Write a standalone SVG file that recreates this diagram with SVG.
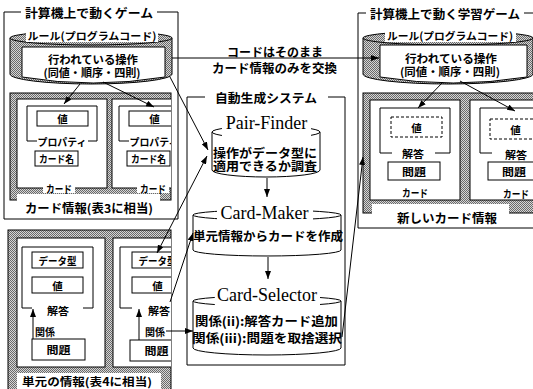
<svg xmlns="http://www.w3.org/2000/svg" width="533" height="389" viewBox="0 0 533 389">
<style>
.t{font-family:"Noto Sans CJK JP","Noto Sans CJK SC",sans-serif;font-weight:700;fill:#000;text-anchor:middle;dominant-baseline:central}
.s{font-family:"Liberation Serif",serif;fill:#000;text-anchor:middle}
.ln{stroke:#000;stroke-width:1;fill:none}
.box{fill:#fff;stroke:#000;stroke-width:1}
.dbox{fill:#fff;stroke:#000;stroke-width:1;stroke-dasharray:3,2}
.gray{fill:url(#hatch);stroke:#000;stroke-width:1}
.wb{fill:#fff;stroke:none}
.arr{stroke:#000;stroke-width:1;fill:none;marker-end:url(#ah)}
</style>
<defs>
<pattern id="hatch" width="2" height="2" patternUnits="userSpaceOnUse">
<rect width="2" height="2" fill="#d6d6d6"/>
<rect width="1" height="1" fill="#6a6a6a"/>
<rect x="1" y="1" width="1" height="1" fill="#6a6a6a"/>
</pattern>
<marker id="ah" viewBox="0 0 8 6" refX="8" refY="3" markerWidth="8" markerHeight="6" orient="auto-start-reverse" markerUnits="userSpaceOnUse">
<path d="M0,0 L8,3 L0,6 Z" fill="#000"/>
</marker>
<clipPath id="clipL"><rect x="10" y="93" width="161" height="107"/></clipPath>
<clipPath id="clipU"><rect x="8" y="230" width="163" height="160"/></clipPath>
<clipPath id="clipR"><rect x="363" y="93" width="170" height="120"/></clipPath>
</defs>
<rect width="533" height="389" fill="#fff"/>

<!-- left game frame -->
<g id="left-game">
<polyline class="ln" points="21,12 4,12 4,219 178,219 178,12 157,12"/>
<text class="t" x="89" y="12" font-size="12.5" textLength="128" lengthAdjust="spacingAndGlyphs">計算機上で動くゲーム</text>
</g>

<g id="rule-left">
<path class="gray" d="M10,38 V74 A81,10 0 0 0 172,74 V38 Z"/>
<ellipse class="gray" cx="91" cy="38" rx="81" ry="7"/>
<path class="box" d="M22,47 H165 V77 Q93,89 22,77 Z"/>
<rect class="wb" x="26" y="29" width="132" height="13"/>
<text class="t" x="92" y="35.5" font-size="10.5" textLength="129" lengthAdjust="spacingAndGlyphs">ルール(プログラムコード)</text>
<text class="t" x="93" y="58.5" font-size="11.5" textLength="90" lengthAdjust="spacingAndGlyphs">行われている操作</text>
<text class="t" x="92" y="72" font-size="11" textLength="97" lengthAdjust="spacingAndGlyphs">(同値・順序・四則)</text>
</g>

<g id="card-info-left">
<rect class="gray" x="10" y="93" width="161" height="107"/>
<g clip-path="url(#clipL)">
<g id="card-l1">
<rect class="box" x="17" y="99" width="90" height="89"/>
<polyline class="ln" points="37,141 27,141 27,106 97,106 97,141 88,141"/>
<rect class="box" x="37" y="111" width="51" height="15"/>
<text class="t" x="62.5" y="118.5" font-size="10.5">値</text>
<text class="t" x="62" y="141.5" font-size="10" textLength="49" lengthAdjust="spacingAndGlyphs">プロパティ</text>
<rect class="box" x="35" y="151" width="43" height="15"/>
<text class="t" x="56.5" y="158.5" font-size="10" textLength="35" lengthAdjust="spacingAndGlyphs">カード名</text>
<rect class="wb" x="43" y="182" width="32" height="11"/>
<text class="t" x="59" y="188" font-size="10.5" textLength="26" lengthAdjust="spacingAndGlyphs">カード</text>
</g>
<g id="card-l2">
<rect class="box" x="112" y="99" width="90" height="89"/>
<polyline class="ln" points="129,141 119,141 119,106 189,106 189,141 180,141"/>
<rect class="box" x="129" y="111" width="51" height="15"/>
<text class="t" x="154.5" y="118.5" font-size="10.5">値</text>
<text class="t" x="154" y="141.5" font-size="10" textLength="49" lengthAdjust="spacingAndGlyphs">プロパティ</text>
<rect class="box" x="127" y="151" width="43" height="15"/>
<text class="t" x="148.5" y="158.5" font-size="10" textLength="35" lengthAdjust="spacingAndGlyphs">カード名</text>
<rect class="wb" x="137" y="182" width="32" height="11"/>
<text class="t" x="153" y="188" font-size="10.5" textLength="26" lengthAdjust="spacingAndGlyphs">カード</text>
</g>
</g>
<rect class="wb" x="17" y="194" width="143" height="21"/>
<text class="t" x="89" y="207" font-size="12" textLength="128" lengthAdjust="spacingAndGlyphs">カード情報(表3に相当)</text>
</g>

<!-- unit info -->
<g id="unit-info">
<rect class="gray" x="8" y="230" width="163" height="162"/>
<g clip-path="url(#clipU)">
<g id="unit-card1">
<rect class="box" x="17" y="238" width="88" height="129"/>
<polyline class="ln" points="32,308 22,308 22,247 93,247 93,308 83,308"/>
<rect class="box" x="32" y="252" width="51" height="16"/>
<text class="t" x="57.5" y="260" font-size="10.5" textLength="38" lengthAdjust="spacingAndGlyphs">データ型</text>
<rect class="box" x="32" y="277" width="51" height="16"/>
<text class="t" x="57.5" y="285" font-size="10.5">値</text>
<text class="t" x="58" y="310" font-size="10.5" textLength="22" lengthAdjust="spacingAndGlyphs">解答</text>
<line class="arr" x1="33" y1="339" x2="33" y2="309"/>
<text class="t" x="45" y="331" font-size="10.5" textLength="20" lengthAdjust="spacingAndGlyphs">関係</text>
<rect class="box" x="32" y="339" width="53" height="21"/>
<text class="t" x="58.5" y="349.5" font-size="10.5" textLength="24" lengthAdjust="spacingAndGlyphs">問題</text>
</g>
<g id="unit-card2">
<rect class="box" x="113" y="238" width="88" height="129"/>
<polyline class="ln" points="132,308 120,308 120,247 191,247 191,308 181,308"/>
<rect class="box" x="132" y="252" width="51" height="16"/>
<text class="t" x="157.5" y="260" font-size="10.5" textLength="38" lengthAdjust="spacingAndGlyphs">データ型</text>
<rect class="box" x="132" y="277" width="51" height="16"/>
<text class="t" x="157.5" y="285" font-size="10.5">値</text>
<text class="t" x="159" y="310" font-size="10.5" textLength="22" lengthAdjust="spacingAndGlyphs">解答</text>
<line class="arr" x1="139" y1="340" x2="139" y2="309"/>
<text class="t" x="155" y="331" font-size="10.5" textLength="20" lengthAdjust="spacingAndGlyphs">関係</text>
<rect class="box" x="130" y="340" width="53" height="21"/>
<text class="t" x="156.5" y="350.5" font-size="10.5" textLength="24" lengthAdjust="spacingAndGlyphs">問題</text>
</g>
</g>
<rect class="wb" x="17" y="373" width="144" height="17"/>
<text class="t" x="87" y="381" font-size="11" textLength="130" lengthAdjust="spacingAndGlyphs">単元の情報(表4に相当)</text>
</g>

<!-- exchange label -->
<g id="exchange-label">
<text class="t" x="275" y="51" font-size="12" textLength="96" lengthAdjust="spacingAndGlyphs">コードはそのまま</text>
<text class="t" x="274.5" y="67.5" font-size="12.5" textLength="125" lengthAdjust="spacingAndGlyphs">カード情報のみを交換</text>
</g>

<!-- auto generation system -->
<g id="system">
<polyline class="ln" points="205,97 187,97 187,365 345,365 345,97 328,97"/>
<text class="t" x="266" y="97.5" font-size="12.5" textLength="102" lengthAdjust="spacingAndGlyphs">自動生成システム</text>
</g>

<g id="pair-finder">
<path class="box" d="M212,132 V170 A54,7 0 0 0 320,170 V132"/>
<ellipse class="box" cx="266" cy="132" rx="54" ry="6"/>
<rect class="wb" x="222" y="114" width="89" height="25"/>
<text class="s" x="266.5" y="129" font-size="18">Pair-Finder</text>
<text class="t" x="265" y="152" font-size="12.5" textLength="104" lengthAdjust="spacingAndGlyphs">操作がデータ型に</text>
<text class="t" x="265" y="165.5" font-size="12.5" textLength="104" lengthAdjust="spacingAndGlyphs">適用できるか調査</text>
</g>

<g id="card-maker">
<path class="box" d="M193,215 V250 A74,6 0 0 0 341,250 V215"/>
<ellipse class="box" cx="267" cy="215" rx="74" ry="5"/>
<rect class="wb" x="217" y="201" width="96" height="21"/>
<text class="s" x="264.5" y="218.5" font-size="18">Card-Maker</text>
<text class="t" x="268" y="235" font-size="12.5" textLength="150" lengthAdjust="spacingAndGlyphs">単元情報からカードを作成</text>
</g>

<g id="card-selector">
<path class="box" d="M193,301 V348 A74,7 0 0 0 341,348 V301"/>
<ellipse class="box" cx="267" cy="301" rx="74" ry="5"/>
<rect class="wb" x="215" y="285" width="105" height="22"/>
<text class="s" x="267" y="301" font-size="18">Card-Selector</text>
<text class="t" x="266.5" y="320" font-size="12.5" textLength="143" lengthAdjust="spacingAndGlyphs">関係(ii):解答カード追加</text>
<text class="t" x="267" y="337" font-size="12.5" textLength="150" lengthAdjust="spacingAndGlyphs">関係(iii):問題を取捨選択</text>
</g>

<!-- right learning game -->
<g id="right-game">
<polyline class="ln" points="366,13 358,13 358,228 534,228"/>
<line class="ln" x1="524" y1="13" x2="534" y2="13"/>
<text class="t" x="445" y="13" font-size="12.5" textLength="150" lengthAdjust="spacingAndGlyphs">計算機上で動く学習ゲーム</text>
</g>

<g id="rule-right">
<path class="gray" d="M363,38 V74 A85,10 0 0 0 533,74 V38 Z"/>
<ellipse class="gray" cx="448" cy="38" rx="85" ry="7"/>
<path class="box" d="M380,45 H527 V77 Q453,89 380,77 Z"/>
<rect class="wb" x="385" y="29" width="131" height="13"/>
<text class="t" x="450" y="35.5" font-size="10.5" textLength="126" lengthAdjust="spacingAndGlyphs">ルール(プログラムコード)</text>
<text class="t" x="451" y="57.5" font-size="11.5" textLength="92" lengthAdjust="spacingAndGlyphs">行われている操作</text>
<text class="t" x="450" y="71" font-size="11" textLength="100" lengthAdjust="spacingAndGlyphs">(同値・順序・四則)</text>
</g>

<g id="new-card-info">
<rect class="gray" x="363" y="93" width="175" height="120"/>
<g clip-path="url(#clipR)">
<g id="new-card1">
<rect class="box" x="370" y="100" width="90" height="100"/>
<polyline class="ln" points="392,153 380,153 380,108 450,108 450,153 435,153"/>
<rect class="dbox" x="391" y="117" width="51" height="20"/>
<text class="t" x="416.5" y="127" font-size="10.5">値</text>
<text class="t" x="413" y="153" font-size="10.5" textLength="22" lengthAdjust="spacingAndGlyphs">解答</text>
<rect class="box" x="388" y="162" width="52" height="18"/>
<text class="t" x="414" y="171" font-size="10.5" textLength="24" lengthAdjust="spacingAndGlyphs">問題</text>
<text class="t" x="415" y="192.5" font-size="10.5" textLength="26" lengthAdjust="spacingAndGlyphs">カード</text>
</g>
<g id="new-card2">
<rect class="box" x="470" y="100" width="90" height="100"/>
<polyline class="ln" points="492,153 480,153 480,108 550,108 550,153 535,153"/>
<rect class="dbox" x="490" y="119" width="51" height="20"/>
<text class="t" x="515.5" y="129" font-size="10.5">値</text>
<text class="t" x="516" y="154" font-size="10.5" textLength="22" lengthAdjust="spacingAndGlyphs">解答</text>
<rect class="box" x="488" y="162" width="52" height="18"/>
<text class="t" x="514" y="171" font-size="10.5" textLength="24" lengthAdjust="spacingAndGlyphs">問題</text>
<text class="t" x="516" y="193" font-size="10.5" textLength="26" lengthAdjust="spacingAndGlyphs">カード</text>
</g>
</g>
<rect class="wb" x="372" y="204" width="137" height="21"/>
<text class="t" x="447" y="217" font-size="12.5" textLength="100" lengthAdjust="spacingAndGlyphs">新しいカード情報</text>
</g>

<!-- connectors -->
<g id="connectors">
<line class="arr" x1="80" y1="84" x2="64" y2="104"/>
<line class="arr" x1="103" y1="82" x2="154" y2="107"/>
<line class="arr" x1="443" y1="82" x2="418" y2="108"/>
<line class="arr" x1="460" y1="81" x2="515" y2="111"/>
<line class="arr" x1="172" y1="58" x2="379" y2="58"/>
<line class="arr" x1="170" y1="77" x2="208" y2="150"/>
<line class="arr" x1="207" y1="156" x2="157" y2="253" style="marker-start:url(#ah)"/>
<line class="arr" x1="170" y1="302" x2="193" y2="233"/>
<line class="arr" x1="166" y1="331" x2="193" y2="331"/>
<line class="arr" x1="267" y1="178" x2="267" y2="197"/>
<line class="arr" x1="268" y1="257" x2="268" y2="279"/>
<line class="arr" x1="342" y1="337" x2="363" y2="157"/>
</g>
</svg>
